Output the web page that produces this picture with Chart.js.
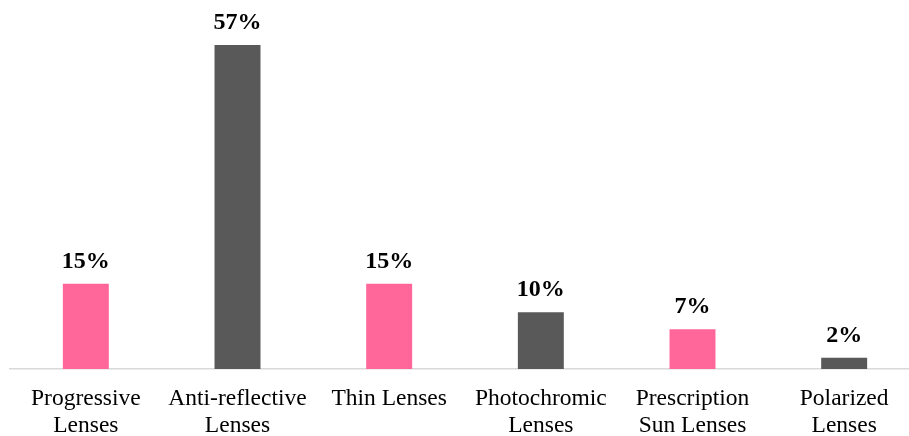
<!DOCTYPE html>
<html>
<head>
<meta charset="utf-8">
<script src="https://cdn.jsdelivr.net/npm/chart.js@4/dist/chart.umd.min.js"></script>
<style>
html,body{margin:0;padding:0;overflow:hidden;background:#fff;width:909px;height:436px;}
#wrap{position:absolute;left:0;top:0;width:920px;height:436px;}
</style>
</head>
<body>
<div id="wrap"><canvas id="c" width="920" height="436"></canvas></div>
<script>
const categories = [
  ["Progressive","Lenses"],
  ["Anti-reflective","Lenses"],
  ["Thin Lenses"],
  ["Photochromic","Lenses"],
  ["Prescription","Sun Lenses"],
  ["Polarized","Lenses"]
];
const shares = [15, 57, 15, 10, 7, 2];
const barColors = ["#FF6699","#595959","#FF6699","#595959","#FF6699","#595959"];

const labelPlugin = {
  id: 'valueLabels',
  afterDatasetsDraw(chart) {
    const ctx = chart.ctx;
    const meta = chart.getDatasetMeta(0);
    ctx.save();
    ctx.font = 'bold 24px "Liberation Serif", "Times New Roman", serif';
    ctx.fillStyle = '#000';
    ctx.textAlign = 'center';
    ctx.textBaseline = 'alphabetic';
    meta.data.forEach((bar, i) => {
      ctx.fillText(shares[i] + '%', bar.x, bar.y - 16);
    });
    ctx.restore();
  }
};

new Chart(document.getElementById('c'), {
  type: 'bar',
  data: {
    labels: categories,
    datasets: [{
      data: shares,
      backgroundColor: barColors,
      borderWidth: 0,
      barPercentage: 0.303,
      categoryPercentage: 1
    }]
  },
  options: {
    responsive: false,
    animation: false,
    devicePixelRatio: 1,
    layout: { padding: { left: 10, right: 0, top: 28, bottom: 0 } },
    plugins: { legend: { display: false }, tooltip: { enabled: false } },
    scales: {
      x: {
        grid: { display: false, drawTicks: false },
        border: { display: true, color: '#d9d9d9', width: 1.5 },
        ticks: {
          color: '#000',
          font: { family: '"Liberation Serif", "Times New Roman", serif', size: 23.5, lineHeight: '27px' },
          padding: 16,
          maxRotation: 0,
          autoSkip: false
        },
        afterFit(s) { s.height = 67; }
      },
      y: {
        display: false,
        min: 0,
        max: 60
      }
    }
  },
  plugins: [labelPlugin]
});
</script>
</body>
</html>
